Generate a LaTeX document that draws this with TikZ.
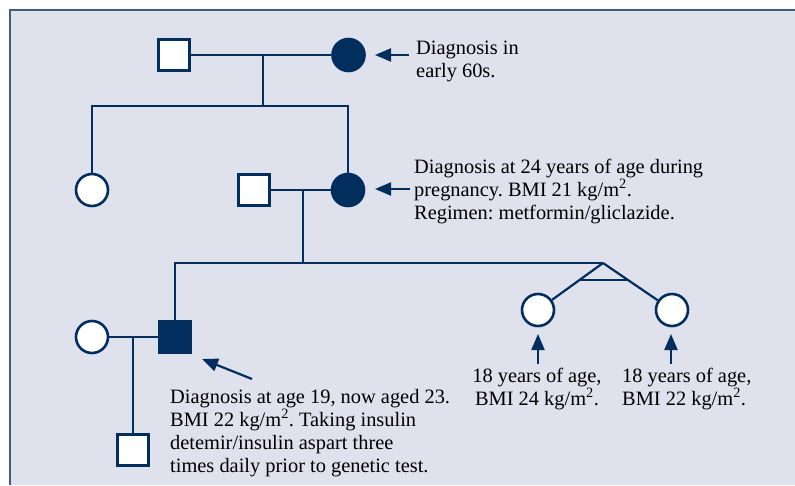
\documentclass[tikz,border=0pt]{standalone}
\usepackage{fontspec}
\setmainfont{Liberation Serif}
\usetikzlibrary{arrows.meta,calc}
\definecolor{navy}{HTML}{022E5E}
\definecolor{bgc}{HTML}{DFE1ED}
\definecolor{frame}{HTML}{3D5D85}
\tikzset{
  male/.style={draw=navy,line width=2.6pt,fill=white,minimum size=31pt,inner sep=0pt,rectangle},
  female/.style={draw=navy,line width=2.6pt,fill=white,minimum size=32pt,inner sep=0pt,circle},
  affected/.style={fill=navy},
  rel/.style={draw=navy,line width=2.2pt},
  arr/.style={draw=navy,line width=2.2pt,-{Triangle[length=16pt,width=13pt]}},
  lbl/.style={inner sep=0pt,font=\fontsize{20.4}{23}\selectfont\frenchspacing,text=black}
}
\begin{document}
\begin{tikzpicture}[x=1pt,y=-1pt]
\useasboundingbox (0,0) rectangle (795,485);
\fill[bgc] (10,10) rectangle (795,485);
\draw[frame,line width=1.5pt] (10,485) -- (10,10) -- (795,10);
% generation I
\node[male] (m1) at (174,55) {};
\node[female,affected] (f1) at (348.5,55) {};
% generation II
\node[female] (f2) at (92,190) {};
\node[male] (m2) at (254,190) {};
\node[female,affected] (f3) at (348,190) {};
% generation III
\node[female] (f4) at (92,337) {};
\node[male,affected] (m3) at (175,337) {};
\node[female] (t1) at (538,310) {};
\node[female] (t2) at (672,310) {};
% generation IV
\node[male] (m4) at (133,450) {};
% coordinates
\coordinate (c1) at (263,55);
\coordinate (s1) at (263,106);
\coordinate (s1L) at (92,106);
\coordinate (s1R) at (348,106);
\coordinate (c2) at (303,190);
\coordinate (s2) at (303,263);
\coordinate (s2L) at (175,263);
\coordinate (apex) at (603,263);
\coordinate (c3) at (133,337);
% connectors
\draw[rel] (m1) -- (f1);
\draw[rel] (c1) -- (s1);
\draw[rel] (f2) -- (s1L) -- (s1R) -- (f3);
\draw[rel] (m2) -- (f3);
\draw[rel] (c2) -- (s2);
\draw[rel] (m3) -- (s2L) -- (apex);
\draw[rel] (apex) -- (t1);
\draw[rel] (apex) -- (t2);
\draw[rel] ($(apex)!0.36!(t1)$) -- ($(apex)!0.36!(t2)$);
\draw[rel] (f4) -- (m3);
\draw[rel] (c3) -- (m4);
% labels (base anchor = baseline of last line)
\node[lbl,align=left,anchor=base west] (L1) at (416,77) {Diagnosis in\\early 60s.};
\node[lbl,align=left,anchor=base west] (L2) at (414,219) {Diagnosis at 24 years of age during\\pregnancy. BMI 21 kg/m\textsuperscript{2}.\\Regimen: metformin/gliclazide.};
\node[lbl,align=left,anchor=base west] (L3) at (170,472) {Diagnosis at age 19, now aged 23.\\BMI 22 kg/m\textsuperscript{2}. Taking insulin\\detemir/insulin aspart three\\times daily prior to genetic test.};
\node[lbl,align=center,anchor=base] (L4) at (537,405) {18 years of age,\\BMI 24 kg/m\textsuperscript{2}.};
\node[lbl,align=left,anchor=base west] (L5) at (622,405) {18 years of age,\\BMI 22 kg/m\textsuperscript{2}.};
% arrows
\coordinate (a1s) at (409,55);
\coordinate (a1e) at (375,55);
\coordinate (a2s) at (410,189);
\coordinate (a2e) at (375,189);
\coordinate (a3s) at (252,379);
\coordinate (a3e) at (202,359);
\coordinate (a4s) at (538,364);
\coordinate (a4e) at (538,334);
\coordinate (a5s) at (671,364);
\coordinate (a5e) at (671,334);
\draw[arr] (a1s) -- (a1e);
\draw[arr] (a2s) -- (a2e);
\draw[arr] (a3s) -- (a3e);
\draw[arr] (a4s) -- (a4e);
\draw[arr] (a5s) -- (a5e);
\end{tikzpicture}
\end{document}
